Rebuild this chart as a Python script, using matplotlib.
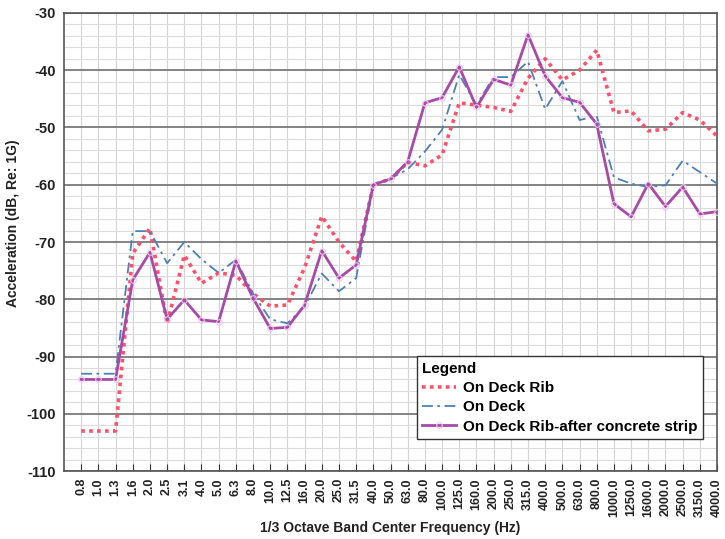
import matplotlib
matplotlib.use('Agg')
import matplotlib.pyplot as plt
from matplotlib.ticker import MultipleLocator

plt.rcParams['font.family'] = ['Liberation Sans', 'DejaVu Sans']
plt.rcParams['axes.unicode_minus'] = False

# 1/3 octave band centre frequencies (Hz)
bands = ['0.8', '1.0', '1.3', '1.6', '2.0', '2.5', '3.1', '4.0', '5.0', '6.3',
         '8.0', '10.0', '12.5', '16.0', '20.0', '25.0', '31.5', '40.0', '50.0', '63.0',
         '80.0', '100.0', '125.0', '160.0', '200.0', '250.0', '315.0', '400.0', '500.0', '630.0',
         '800.0', '1000.0', '1250.0', '1600.0', '2000.0', '2500.0', '3150.0', '4000.0']

# acceleration levels (dB re 1G)
deck_rib = [-103, -103, -103, -72, -67.6, -84.3, -72.3, -77.2, -75.4, -75.8,
            -79, -81.2, -81, -74.5, -65.5, -70, -73.4, -60, -59, -56.1,
            -56.7, -54.8, -45.7, -46.1, -46.5, -47.2, -41.4, -38, -41.7, -40,
            -36.5, -47.4, -47.1, -50.6, -50.3, -47.4, -48.7, -51.5]
deck = [-93, -93, -93, -68.1, -68.1, -73.7, -70, -73, -75.4, -73.1,
        -79, -83.5, -84.2, -81.3, -75.5, -78.6, -76.3, -60, -58.9, -57.3,
        -54.2, -50.4, -40.8, -46.1, -41.2, -41.2, -38.5, -46.8, -41.9, -48.7,
        -48, -58.7, -59.8, -60.4, -60.1, -55.8, -57.8, -59.8]
rib_after = [-94, -94, -94, -76.6, -71.8, -83.5, -80.1, -83.6, -83.9, -73.3,
             -79.8, -85.1, -84.9, -81, -71.5, -76.3, -74, -60, -59, -56,
             -45.7, -44.8, -39.4, -46.5, -41.6, -42.6, -33.8, -41, -44.8, -45.6,
             -49.4, -63.3, -65.6, -59.8, -63.8, -60.4, -65.1, -64.7]

x = list(range(len(bands)))

fig = plt.figure(figsize=(7.25, 5.39), dpi=100)
ax = fig.add_axes([0.0883, 0.126, 0.9007, 0.850])

ax.plot(x, deck_rib, color='#ff4f6a', linestyle=(0, (1, 1.2)), linewidth=2.6,
        label='On Deck Rib', zorder=3)
ax.plot(x, deck, color='#4f7fb8', linestyle=(0, (6, 2.5, 1.5, 2.5)), linewidth=1.3,
        label='On Deck', zorder=3)
ax.plot(x, rib_after, color='#a84aa8', linestyle='-', linewidth=2.0,
        marker='o', markersize=4, markerfacecolor='none', markeredgecolor='#f0c6f0',
        markeredgewidth=0.8, label='On Deck Rib-after concrete strip', zorder=4)

ax.set_xlim(-1, len(bands) - 1)
ax.set_ylim(-110, -30)

ax.set_xticks(x)
ax.set_xticklabels(bands, rotation=90, fontsize=9, fontweight='bold', color='#222222')
ax.yaxis.set_major_locator(MultipleLocator(10))
ax.yaxis.set_minor_locator(MultipleLocator(2))
for lab in ax.get_yticklabels():
    lab.set_fontweight('bold')
    lab.set_fontsize(10.5)
    lab.set_color('#222222')

ax.tick_params(axis='x', direction='in', length=5, width=0.8, color='#333333', pad=5)
ax.tick_params(axis='y', which='both', length=0, pad=6)

# grid: every band, fine every 2 dB, heavy every 10 dB
ax.grid(True, axis='x', color='#d4d4d4', linewidth=0.8, zorder=0)
ax.grid(True, axis='y', which='minor', color='#dcdcdc', linewidth=0.8, zorder=0)
ax.grid(True, axis='y', which='major', color='#7a7a7a', linewidth=1.3, zorder=1)
ax.set_axisbelow(True)

for s in ax.spines.values():
    s.set_color('#555555')
    s.set_linewidth(1.2)

ax.set_xlabel('1/3 Octave Band Center Frequency (Hz)', fontsize=10,
              fontweight='bold', color='#222222', labelpad=3)
ax.set_ylabel('Acceleration (dB, Re: 1G)', fontsize=10,
              fontweight='bold', color='#222222', labelpad=3)
ax.yaxis.set_label_coords(-0.068, 0.54)

leg = ax.legend(loc='lower right', bbox_to_anchor=(0.979, 0.07), title='Legend',
                prop={'weight': 'bold', 'size': 11}, fancybox=False, framealpha=1,
                edgecolor='#333333', handlelength=2.2, handletextpad=0.5,
                borderpad=0.35, labelspacing=0.35, borderaxespad=0)
leg.get_title().set_fontweight('bold')
leg.get_title().set_fontsize(11)
leg._legend_box.align = 'left'
leg.get_frame().set_linewidth(1.0)

fig.savefig('out.png', dpi=100, facecolor='white')
